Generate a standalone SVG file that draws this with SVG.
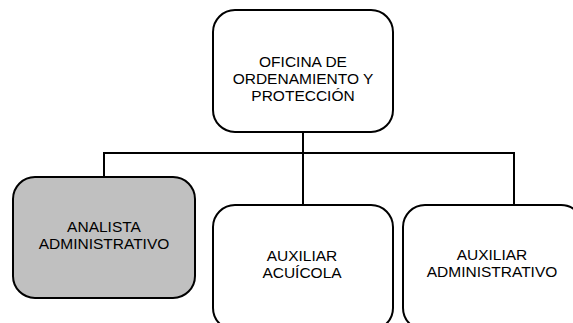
<svg xmlns="http://www.w3.org/2000/svg" width="573" height="323" viewBox="0 0 573 323">
<style>
.box{fill:#fff;stroke:#000;stroke-width:2}
.gray{fill:#c0c0c0}
.t{font-family:"Liberation Sans",Arial,sans-serif;font-size:15.5px;fill:#000;text-anchor:middle}
.ln{fill:none;stroke:#000;stroke-width:2}
</style>
<rect width="573" height="323" fill="#fff"/>
<g id="connectors">
<path class="ln" d="M303,132 V205 M104,177 V153 H514 V205"/>
</g>
<g id="n-oficina">
<rect class="box" x="213" y="10" width="180" height="122" rx="22"/>
<text class="t" x="303" y="67">OFICINA DE</text>
<text class="t" x="303" y="84">ORDENAMIENTO Y</text>
<text class="t" x="303" y="101">PROTECCIÓN</text>
</g>
<g id="n-analista">
<rect class="box gray" x="13" y="177" width="182" height="121" rx="22"/>
<text class="t" x="104" y="232">ANALISTA</text>
<text class="t" x="104" y="249">ADMINISTRATIVO</text>
</g>
<g id="n-acuicola">
<rect class="box" x="213" y="205" width="180" height="125" rx="22"/>
<text class="t" x="302" y="261">AUXILIAR</text>
<text class="t" x="302" y="278">ACUÍCOLA</text>
</g>
<g id="n-auxadmin">
<rect class="box" x="403" y="205" width="180" height="125" rx="22"/>
<text class="t" x="492" y="260">AUXILIAR</text>
<text class="t" x="492" y="277">ADMINISTRATIVO</text>
</g>
</svg>
